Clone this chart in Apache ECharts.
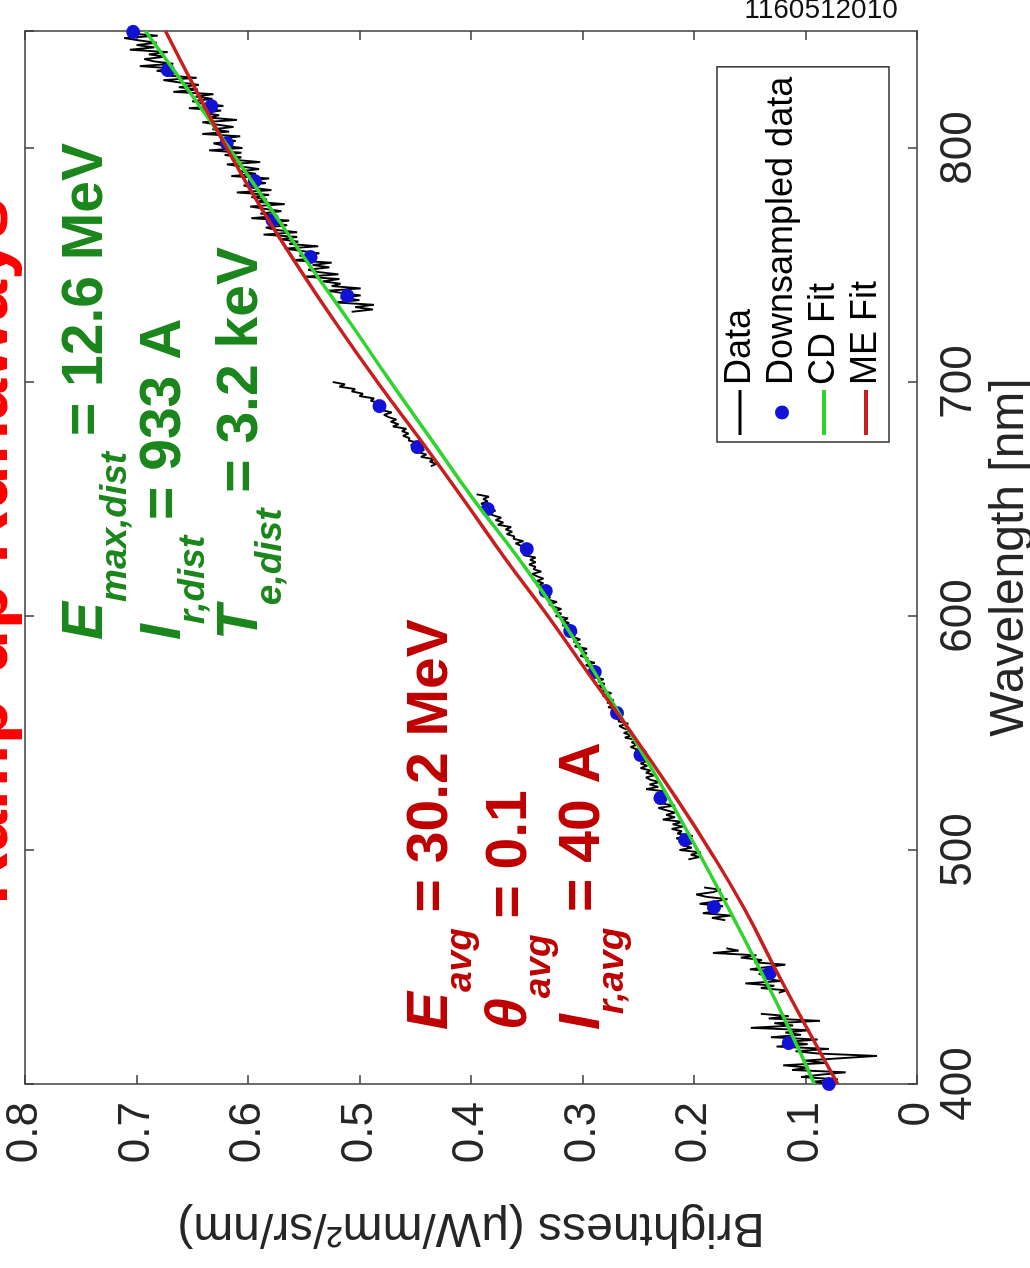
<!DOCTYPE html>
<html>
<head>
<meta charset="utf-8">
<script src="https://cdn.jsdelivr.net/npm/echarts@6/dist/echarts.min.js"></script>
<style>
  html, body { margin: 0; padding: 0; background: #fff; overflow: hidden; width: 1030px; height: 1268px; }
  /* the figure is laid out landscape and turned a quarter turn counter-clockwise */
  #frame { position: absolute; left: 0; top: 0; width: 1268px; height: 1030px;
           transform-origin: 0 0; transform: translate(0, 1268px) rotate(-90deg); }
</style>
</head>
<body>
<div id="frame"></div>
<script>
// ---- measured spectrum, sampled every 1 nm, in separate contiguous windows ----
const dataStepNm = 1;
const segAStart = 400;
const segA = [0.080, 0.093, 0.071, 0.104, 0.086, 0.064, 0.112, 0.097, 0.120, 0.082,
              0.101, 0.069, 0.036, 0.088, 0.109, 0.079, 0.126, 0.098, 0.117, 0.089,
              0.131, 0.104, 0.118, 0.096, 0.149, 0.111, 0.128, 0.087, 0.133, 0.115, 0.140];
const segBStart = 439;
const segB = [0.124, 0.117, 0.140, 0.128, 0.154, 0.122, 0.136, 0.131, 0.142, 0.125,
              0.150, 0.134, 0.118, 0.146, 0.139, 0.158, 0.144, 0.183, 0.160, 0.171];
const segCStart = 470;
const segC = [0.172, 0.184, 0.167, 0.192, 0.178, 0.188, 0.174, 0.195, 0.181, 0.170,
              0.189, 0.198, 0.183, 0.176, 0.191];
const segDStart = 496;
const segD = [0.205, 0.195, 0.203, 0.194, 0.213, 0.202, 0.210, 0.201, 0.209, 0.216,
              0.201, 0.215, 0.211, 0.220, 0.210, 0.219, 0.210, 0.228, 0.217, 0.225,
              0.217, 0.225, 0.232, 0.217, 0.231, 0.227, 0.236, 0.226, 0.234, 0.225,
              0.243, 0.232, 0.240, 0.231, 0.239, 0.243, 0.235, 0.243, 0.239, 0.248,
              0.242, 0.248, 0.242, 0.248, 0.252, 0.244, 0.252, 0.251, 0.257, 0.251,
              0.256, 0.251, 0.262, 0.256, 0.263, 0.257, 0.263, 0.267, 0.259, 0.268,
              0.266, 0.272, 0.266, 0.271, 0.266, 0.277, 0.271, 0.278, 0.272, 0.278,
              0.282, 0.274, 0.282, 0.280, 0.286, 0.280, 0.286, 0.281, 0.292, 0.286,
              0.292, 0.286, 0.292, 0.297, 0.289, 0.297, 0.295, 0.302, 0.296, 0.301,
              0.296, 0.307, 0.302, 0.308, 0.302, 0.308, 0.313, 0.305, 0.313, 0.311,
              0.318, 0.312, 0.318, 0.313, 0.324, 0.319, 0.325, 0.319, 0.326, 0.330,
              0.323, 0.331, 0.329, 0.336, 0.330, 0.335, 0.330, 0.341, 0.335, 0.341,
              0.335, 0.341, 0.345, 0.337, 0.344, 0.342, 0.348, 0.342, 0.347, 0.342,
              0.353, 0.347, 0.353, 0.348, 0.355, 0.360, 0.353, 0.362, 0.361, 0.368,
              0.363, 0.369, 0.364, 0.376, 0.371, 0.378, 0.373, 0.380, 0.385, 0.378,
              0.387, 0.385, 0.391, 0.385, 0.389, 0.384, 0.395];
const segEStart = 664;
const segE = [0.436, 0.431, 0.437, 0.433, 0.445, 0.440, 0.447, 0.442, 0.449, 0.454,
              0.447, 0.456, 0.455, 0.461, 0.456, 0.462, 0.458, 0.470, 0.465, 0.472,
              0.467, 0.474, 0.478, 0.471, 0.480, 0.479, 0.486, 0.482, 0.490, 0.487,
              0.500, 0.497, 0.507, 0.504, 0.518, 0.513, 0.524];
const segFStart = 730;
const segF = [0.507, 0.488, 0.504, 0.487, 0.522, 0.500, 0.517, 0.499, 0.515, 0.529,
              0.499, 0.525, 0.517, 0.533, 0.518, 0.549, 0.519, 0.537, 0.546, 0.527,
              0.542, 0.525, 0.560, 0.538, 0.554, 0.536, 0.552, 0.567, 0.537, 0.563,
              0.555, 0.571, 0.556, 0.586, 0.556, 0.575, 0.584, 0.565, 0.580, 0.563,
              0.597, 0.574, 0.589, 0.570, 0.585, 0.598, 0.567, 0.592, 0.583, 0.597,
              0.581, 0.610, 0.579, 0.596, 0.604, 0.584, 0.598, 0.581, 0.615, 0.593,
              0.608, 0.590, 0.605, 0.619, 0.589, 0.614, 0.606, 0.621, 0.606, 0.635,
              0.605, 0.622, 0.631, 0.611, 0.625, 0.607, 0.641, 0.617, 0.632, 0.613,
              0.628, 0.641, 0.610, 0.635, 0.626, 0.640, 0.624, 0.653, 0.622, 0.641,
              0.650, 0.632, 0.647, 0.631, 0.667, 0.645, 0.662, 0.644, 0.661, 0.676,
              0.646, 0.673, 0.665, 0.682, 0.667, 0.697, 0.667, 0.684, 0.693, 0.674,
              0.689, 0.672, 0.706, 0.684, 0.700, 0.682, 0.698, 0.711, 0.681, 0.707, 0.699];

// ---- downsampled points ----
const dotWavelength = [400, 417.5, 447.4, 475.6, 504.3, 522.2, 540.6, 558.5, 576.1, 593.6, 610.7, 628.6,
                       645.7, 672.2, 689.7, 736.8, 753.4, 769.2, 785.9, 802.1, 817.9, 833.3, 849.6];
const dotBrightness = [0.079, 0.115, 0.132, 0.182, 0.208, 0.230, 0.248, 0.269, 0.289, 0.311, 0.333, 0.350,
                       0.385, 0.448, 0.482, 0.511, 0.544, 0.578, 0.594, 0.619, 0.633, 0.672, 0.703];

// ---- model fits ----
const fitWavelength = [400, 425, 450, 475, 500, 525, 550, 575, 600, 625, 650, 675, 700, 725, 750, 775, 800, 825, 850];
const cdFit = [0.092, 0.116, 0.142, 0.169, 0.197, 0.226, 0.257, 0.288, 0.321, 0.358, 0.398, 0.435, 0.472, 0.508, 0.545, 0.581, 0.617, 0.654, 0.692];
const meFit = [0.071, 0.100, 0.128, 0.155, 0.186, 0.220, 0.256, 0.294, 0.331, 0.370, 0.407, 0.445, 0.484, 0.521, 0.556, 0.589, 0.619, 0.647, 0.674];

// ---- build series data ----
const segments = [[segAStart, segA], [segBStart, segB], [segCStart, segC], [segDStart, segD], [segEStart, segE], [segFStart, segF]];
const spectrum = [];
segments.forEach(([start, values], k) => {
  if (k > 0) spectrum.push([start - 0.5, null]);   // break the trace between windows
  values.forEach((b, i) => spectrum.push([start + i * dataStepNm, b]));
});
const dots = dotWavelength.map((w, i) => [w, dotBrightness[i]]);
const cdPts = fitWavelength.map((w, i) => [w, cdFit[i]]);
const mePts = fitWavelength.map((w, i) => [w, meFit[i]]);

const FONT = '"Liberation Sans", Arial, sans-serif';
const AX = '#3c3c3c';
const TXT = '#262626';
const GREEN = '#1b861b';
const DARKRED = '#c00000';
const LINE_ICON_THIN = 'path://M0,0H45V3H0Z';
const LINE_ICON_THICK = 'path://M0,0H45V4H0Z';

function frameAxis(extra) {
  return Object.assign({
    type: 'value',
    axisLine: { show: true, onZero: false, lineStyle: { color: AX, width: 1.5 } },
    axisTick: { show: true, inside: true, length: 9, lineStyle: { color: AX, width: 1.5 } },
    splitLine: { show: false }
  }, extra);
}

function annotation(x, y, color, sym, sub, val) {
  return {
    type: 'text', x: x, y: y, z: 50,
    style: {
      text: '{s|' + sym + '}{b|' + sub + '}{v|' + val + '}',
      align: 'left', verticalAlign: 'top',
      rich: {
        s: { fontFamily: FONT, fontSize: 57, fontWeight: 'bold', fontStyle: 'italic', fill: color, lineHeight: 60, verticalAlign: 'top' },
        b: { fontFamily: FONT, fontSize: 37, fontWeight: 'bold', fontStyle: 'italic', fill: color, lineHeight: 40, padding: [39, 0, 0, 0], verticalAlign: 'top' },
        v: { fontFamily: FONT, fontSize: 57, fontWeight: 'bold', fill: color, lineHeight: 60, verticalAlign: 'top' }
      }
    }
  };
}

const chart = echarts.init(document.getElementById('frame'));
chart.setOption({
  animation: false,
  backgroundColor: '#ffffff',
  grid: { left: 184, right: 31, top: 25, bottom: 113, containLabel: false, outerBoundsMode: 'none' },
  xAxis: [
    frameAxis({
      min: 400, max: 850, interval: 100, position: 'bottom',
      name: 'Wavelength [nm]', nameLocation: 'middle', nameGap: 61,
      nameTextStyle: { fontFamily: FONT, fontSize: 48, color: TXT },
      axisLabel: { show: true, margin: 20, fontFamily: FONT, fontSize: 44, color: TXT, showMaxLabel: false }
    }),
    frameAxis({ min: 400, max: 850, interval: 100, position: 'top', axisLabel: { show: false } })
  ],
  yAxis: [
    frameAxis({
      min: 0, max: 0.8, interval: 0.1, position: 'left',
      name: 'Brightness (μW/mm²/sr/nm)', nameLocation: 'middle', nameRotate: 90, nameGap: 119,
      nameTextStyle: { fontFamily: FONT, fontSize: 48, color: TXT },
      axisLabel: { show: true, margin: 18, fontFamily: FONT, fontSize: 44, color: TXT }
    }),
    frameAxis({ min: 0, max: 0.8, interval: 0.1, position: 'right', axisLabel: { show: false } })
  ],
  legend: {
    orient: 'vertical', left: 826, top: 717,
    padding: [4, 10, 4, 7], itemGap: 4, itemWidth: 45, itemHeight: 14, itemTextGap: 6,
    borderColor: '#303030', borderWidth: 1.5, backgroundColor: '#ffffff',
    textStyle: { fontFamily: FONT, fontSize: 36, color: '#000', lineHeight: 38 },
    data: [
      { name: 'Data', icon: LINE_ICON_THIN },
      { name: 'Downsampled data', icon: 'circle' },
      { name: 'CD Fit', icon: LINE_ICON_THICK },
      { name: 'ME Fit', icon: LINE_ICON_THICK }
    ]
  },
  series: [
    { name: 'Data', type: 'line', data: spectrum, showSymbol: false, symbol: 'none', connectNulls: false,
      lineStyle: { color: '#000', width: 1.9 }, itemStyle: { color: '#000' }, z: 2 },
    { name: 'Downsampled data', type: 'scatter', data: dots, symbol: 'circle', symbolSize: 14,
      itemStyle: { color: '#1212d6', opacity: 1 }, z: 3 },
    { name: 'CD Fit', type: 'line', data: cdPts, smooth: true, showSymbol: false, symbol: 'none',
      lineStyle: { color: '#2fd42f', width: 3.5 }, itemStyle: { color: '#2fd42f' }, z: 4 },
    { name: 'ME Fit', type: 'line', data: mePts, smooth: true, showSymbol: false, symbol: 'none',
      lineStyle: { color: '#c81e1e', width: 3.5 }, itemStyle: { color: '#c81e1e' }, z: 5 }
  ],
  graphic: [
    { type: 'text', x: 363, y: -13, z: 50,
      style: { text: 'Ramp-up Runaways', fontFamily: FONT, fontSize: 74, fontWeight: 'bold', fill: '#ff0000',
               align: 'left', verticalAlign: 'middle' } },
    annotation(628, 58, GREEN, 'E', 'max,dist', ' = 12.6 MeV'),
    annotation(628, 136, GREEN, 'I', 'r,dist', ' = 933 A'),
    annotation(628, 213, GREEN, 'T', 'e,dist', ' = 3.2 keV'),
    annotation(238, 403, DARKRED, 'E', 'avg', ' = 30.2 MeV'),
    annotation(238, 482, DARKRED, 'θ', 'avg', ' = 0.1'),
    annotation(238, 555, DARKRED, 'I', 'r,avg', ' = 40 A'),
    { type: 'text', x: 1258, y: 821, rotation: -Math.PI / 2, z: 50,
      style: { text: '1160512010', fontFamily: FONT, fontSize: 28, fill: '#111', align: 'center', verticalAlign: 'middle' } }
  ]
});
</script>
</body>
</html>
